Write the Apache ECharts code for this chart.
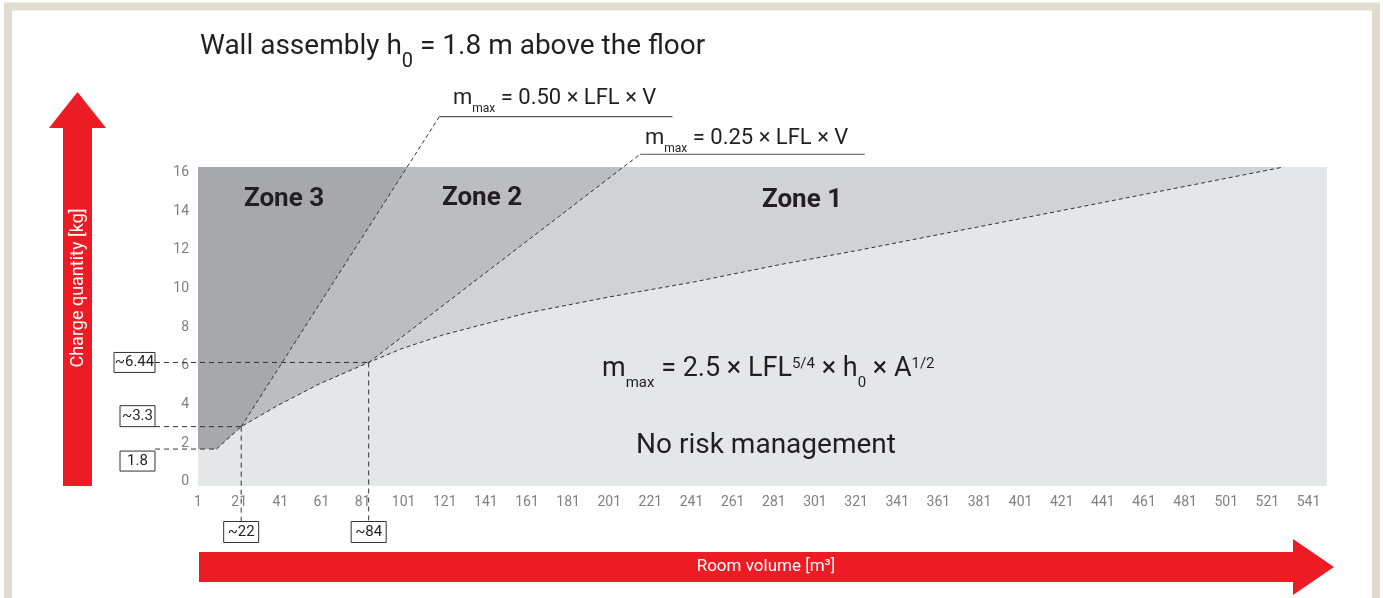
<!DOCTYPE html>
<html>
<head>
<meta charset="utf-8">
<script src="https://cdn.jsdelivr.net/npm/echarts@6/dist/echarts.min.js"></script>
<style>
  html, body { margin: 0; padding: 0; background: #fff; }
  #chart { width: 1383px; height: 598px; }
</style>
</head>
<body>
<div id="chart"></div>
<script>
const FONT = 'Roboto, "Liberation Sans", sans-serif'
const INK = '#231f20'

// room volume ticks [m³] and charge ticks [kg]
const xTicks = [1, 21, 41, 61, 81, 101, 121, 141, 161, 181, 201, 221, 241, 261, 281,
  301, 321, 341, 361, 381, 401, 421, 441, 461, 481, 501, 521, 541]
const yTicks = [0, 2, 4, 6, 8, 10, 12, 14, 16]

// lower limit m_max = 2.5 x LFL^5/4 x h0 x A^1/2
const curveV = [1, 10, 22, 40, 60, 84, 100, 120, 161, 201, 242, 283, 323, 400, 460, 529]
const curveM = [1.69, 1.69, 2.85, 3.96, 5.06, 6.17, 6.88, 7.59, 8.73, 9.56, 10.33, 11.21, 11.99, 13.59, 14.84, 16.28]

// m_max = 0.50 x LFL x V  and  m_max = 0.25 x LFL x V
const lfl50V = [22, 102.7, 118.4]
const lfl50M = [2.85, 16.28, 18.89]
const lfl25V = [84, 207.9, 216]
const lfl25M = [6.17, 16.28, 16.94]
// underlines under the two formula labels
const note50V = [118.4, 231.7]
const note25V = [216, 325.2]

// reference values marked on the axes
const markV = [22, 84]
const markVLabels = ['~22', '~84']
const markM = [1.69, 2.85, 6.17]
const markMEndV = [10, 22, 84]
const markMLabels = ['1.8', '~3.3', '~6.44']

const zone3Color = '#a7a8ab'
const zone2Color = '#bcbdc0'
const zone1Color = '#d1d2d4'
const lightColor = '#e5e6e8'

const zip = (vs, ms) => vs.map((v, i) => [v, ms[i]])
const curve = zip(curveV, curveM)
const upTo = (v) => curve.filter(p => p[0] <= v)

function fillSeries(data, color) {
  return {
    type: 'line', data, symbol: 'none', silent: true, z: 1,
    lineStyle: { width: 0 },
    areaStyle: { color, opacity: 1, origin: 'end' }
  }
}
function dashSeries(data) {
  return {
    type: 'line', data, symbol: 'none', silent: true, clip: false, z: 5,
    lineStyle: { color: '#333', width: 1, type: [4, 3] }
  }
}
function underline(vs, m) {
  return {
    type: 'line', data: vs.map(v => [v, m]), symbol: 'none', silent: true, clip: false, z: 5,
    lineStyle: { color: '#555', width: 1.2 }
  }
}

const chart = echarts.init(document.getElementById('chart'))
chart.setOption({
  animation: false,
  grid: {
    left: 198, right: 56, top: 167, bottom: 112,
    show: true, backgroundColor: lightColor, borderWidth: 0
  },
  xAxis: {
    type: 'value', min: 1, max: 550,
    axisLine: { show: false }, axisTick: { show: false }, splitLine: { show: false },
    axisLabel: { customValues: xTicks, color: '#808080', fontSize: 14, fontFamily: FONT, margin: 9 }
  },
  yAxis: {
    type: 'value', min: -0.22, max: 16.28,
    axisLine: { show: false }, axisTick: { show: false }, splitLine: { show: false },
    axisLabel: { customValues: yTicks, color: '#808080', fontSize: 14, fontFamily: FONT, margin: 9 }
  },
  series: [
    fillSeries(curve, zone1Color),
    fillSeries(upTo(84).concat([[lfl25V[1], lfl25M[1]]]), zone2Color),
    fillSeries(upTo(22).concat([[lfl50V[1], lfl50M[1]]]), zone3Color),
    dashSeries(curve.slice(1)),
    dashSeries(zip(lfl50V, lfl50M)),
    dashSeries(zip(lfl25V, lfl25M)),
    underline(note50V, lfl50M[2]),
    underline(note25V, lfl25M[2])
  ]
})

// annotations: arrows, titles, formula texts and the boxed reference values
const px = (v, m) => chart.convertToPixel({ gridIndex: 0 }, [v, m])
const red = '#ed1c24'
const dash = { stroke: '#333', lineWidth: 1, lineDash: [5, 4] }
const g = []

g.push({ type: 'rect', z: -10, silent: true, shape: { x: 8, y: 6.5, width: 1368, height: 700 },
  style: { fill: null, stroke: '#e2dbd0', lineWidth: 8 } })

g.push({ type: 'polygon', shape: { points: [[63, 486], [63, 128], [49, 128], [77.5, 92], [106, 128], [92, 128], [92, 486]] },
  style: { fill: red } })
g.push({ type: 'polygon', shape: { points: [[199, 552], [1293, 552], [1293, 539], [1334, 567], [1293, 595], [1293, 582], [199, 582]] },
  style: { fill: red } })
g.push({ type: 'text', x: 78, y: 288, rotation: Math.PI / 2,
  style: { text: 'Charge quantity [kg]', fill: '#fff', font: '18px ' + FONT, align: 'center', verticalAlign: 'middle' } })
g.push({ type: 'text', x: 766, y: 567,
  style: { text: 'Room volume [m³]', fill: '#fff', font: '17px ' + FONT, align: 'center', verticalAlign: 'middle' } })

function rich(x, y, text, size, lh, subSize, subLh, supPad) {
  return { type: 'text', x, y, z: 100, silent: true,
    style: { text, align: 'left', verticalAlign: 'middle', fill: INK, fontFamily: FONT,
      rich: {
        a: { fontSize: size, lineHeight: lh, fill: INK, fontFamily: FONT },
        s: { fontSize: subSize, lineHeight: subLh, verticalAlign: 'bottom', fill: INK, fontFamily: FONT },
        p: { fontSize: subSize, verticalAlign: 'top', padding: [supPad, 0, 0, 0], fill: INK, fontFamily: FONT }
      } } }
}
g.push(rich(200, 47, '{a|Wall assembly h}{s|0}{a| = 1.8 m above the floor}', 28, 50, 20, 20, 0))
g.push(rich(453, 98, '{a|m}{s|max}{a| = 0.50 × LFL × V}', 22, 33, 12, 12, 0))
g.push(rich(645, 138, '{a|m}{s|max}{a| = 0.25 × LFL × V}', 22, 33, 12, 12, 0))
g.push(rich(602, 369, '{a|m}{s|max}{a| = 2.5 × LFL}{p|5/4}{a| × h}{s|0}{a| × A}{p|1/2}', 27, 44, 15, 15, 10))
g.push({ type: 'text', x: 766, y: 446, z: 100, silent: true,
  style: { text: 'No risk management', fill: INK, font: '28px ' + FONT, align: 'center', verticalAlign: 'middle' } })

const zoneLabel = (x, y, t) => ({ type: 'text', x, y, z: 100, silent: true,
  style: { text: t, fill: INK, font: 'bold 26px ' + FONT, align: 'center', verticalAlign: 'middle' } })
g.push(zoneLabel(284, 199, 'Zone 3'), zoneLabel(482, 198, 'Zone 2'), zoneLabel(802, 200, 'Zone 1'))

function box(cx, cy, w, h, t) {
  g.push({ type: 'rect', z: 100, silent: true, shape: { x: cx - w / 2, y: cy - h / 2, width: w, height: h },
    style: { fill: '#fff', stroke: '#333', lineWidth: 1 } })
  g.push({ type: 'text', x: cx, y: cy, z: 101, silent: true,
    style: { text: t, fill: INK, font: '15px ' + FONT, align: 'center', verticalAlign: 'middle' } })
}

// horizontal reference lines and their boxes on the left
markM.forEach((m, i) => {
  const p = px(markMEndV[i], m)
  g.push({ type: 'line', z: 99, silent: true, shape: { x1: 155, y1: p[1], x2: p[0], y2: p[1] }, style: dash })
  if (i === 0) box(137.5, p[1] + 12, 35, 20, markMLabels[i])
  else if (i === 1) box(137.5, p[1] - 10.5, 35, 21, markMLabels[i])
  else box(134.5, p[1], 41, 20, markMLabels[i])
})
// vertical reference lines and their boxes below
markV.forEach((v, i) => {
  const p = px(v, markM[i + 1])
  g.push({ type: 'line', z: 99, silent: true, shape: { x1: p[0], y1: p[1], x2: p[0], y2: 522 }, style: dash })
  box(p[0], 532, 35, 21, markVLabels[i])
})

chart.setOption({ graphic: g })
</script>
</body>
</html>
